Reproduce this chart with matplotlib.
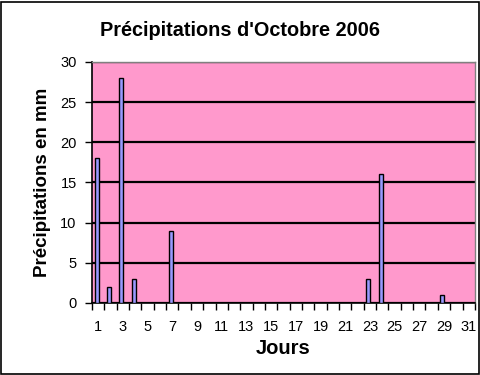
import matplotlib.pyplot as plt
import numpy as np
from matplotlib.patches import Rectangle

plt.rcParams['font.family'] = ['Liberation Sans', 'DejaVu Sans']

# rainfall per day, October 2006
days = np.arange(1, 32)
rain = [18, 2, 28, 3, 0, 0, 9, 0, 0, 0, 0, 0, 0, 0, 0, 0, 0, 0, 0, 0,
        0, 0, 3, 16, 0, 0, 0, 0, 1, 0, 0]
tick_days = list(range(1, 32, 2))
y_ticks = [0, 5, 10, 15, 20, 25, 30]

fig = plt.figure(figsize=(4.81, 3.75), dpi=100)
ax = fig.add_axes([0.1913, 0.192, 0.796, 0.643])
ax.set_facecolor('#FF99CC')

ax.bar(days - 0.13, rain, width=0.33, color='#9999FF', edgecolor='black',
       linewidth=1.0, zorder=3)

ax.set_xlim(0.5, 31.5)
ax.set_ylim(0, 30)
ax.set_yticks(y_ticks)
ax.yaxis.grid(True, color='black', linewidth=1.6, zorder=1)
ax.set_axisbelow(True)

ax.set_xticks(tick_days)
ax.set_xticklabels([str(d) for d in tick_days])
ax.set_xticks(np.arange(0.5, 32, 1), minor=True)
ax.tick_params(axis='x', which='major', length=0, pad=12, labelsize=10.5)
ax.tick_params(axis='x', which='minor', length=5, width=1, direction='out')
ax.tick_params(axis='y', length=5, width=1, pad=6, labelsize=10.5)

for s in ['left', 'bottom']:
    ax.spines[s].set_linewidth(1.2)
for s in ['top', 'right']:
    ax.spines[s].set_color('#808080')
    ax.spines[s].set_linewidth(1.0)

ax.set_xlabel('Jours', fontsize=14.5, fontweight='bold', labelpad=4)
ax.set_ylabel('Précipitations en mm', fontsize=13.5, fontweight='bold', labelpad=7)
fig.text(0.5, 0.918, "Précipitations d'Octobre 2006", ha='center', va='center',
         fontsize=14.3, fontweight='bold')

fig.patches.append(Rectangle((0.002, 0.004), 0.994, 0.992, transform=fig.transFigure,
                             fill=False, edgecolor='black', linewidth=1.2))

fig.savefig('out.png', dpi=100)
